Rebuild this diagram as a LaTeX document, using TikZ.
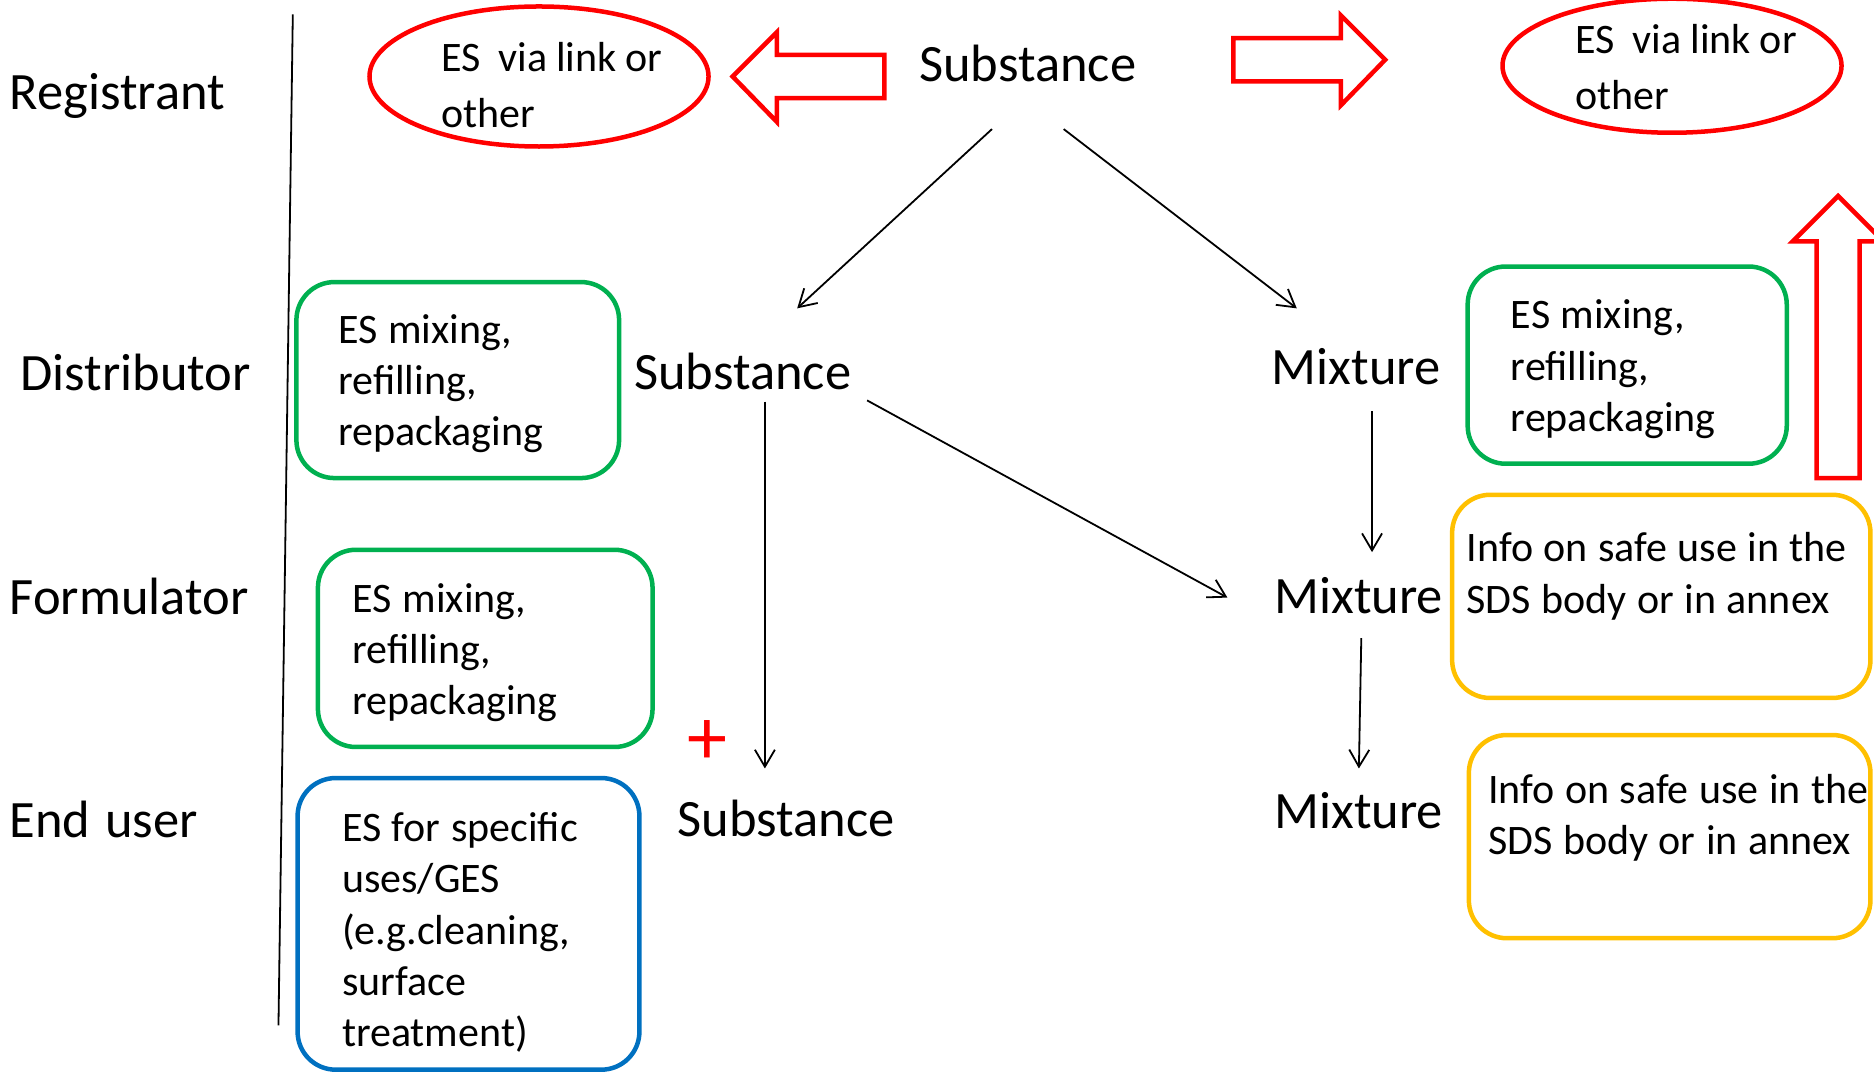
\documentclass[tikz,border=0pt]{standalone}
\usepackage{fontspec}
\setmainfont{Carlito}
\usetikzlibrary{shapes.geometric,arrows.meta,calc,fit}
\definecolor{rd}{RGB}{255,0,0}
\definecolor{gr}{RGB}{0,176,80}
\definecolor{bl}{RGB}{0,112,192}
\definecolor{yl}{RGB}{255,192,0}
\newcommand\myboxsp{\spaceskip 10.5pt\relax\xspaceskip 10.5pt\relax}
\newcommand\myellsp{\spaceskip 9pt\relax\xspaceskip 9pt\relax}
\begin{document}
\begin{tikzpicture}[x=1.195pt,y=-1.195pt,
  lbl/.style={inner sep=0pt, anchor=base west, font=\fontsize{52.5}{63}\selectfont},
  btxt/.style={inner sep=0pt, anchor=north west, text width=430pt, align=left, font=\fontsize{42}{51.2}\selectfont},
  etxt/.style={inner sep=0pt, anchor=north west, text width=320pt, align=left, font=\fontsize{42}{56}\selectfont},
  rbox/.style={draw, line width=4.5pt, rounded corners=38pt, inner sep=0pt},
  gbox/.style={rbox, draw=gr},
  bbox/.style={rbox, draw=bl},
  ybox/.style={rbox, draw=yl},
  redell/.style={ellipse, draw=rd, line width=4.5pt, inner sep=0pt},
  blockarrow/.style={draw=rd, line width=4.5pt, fill=white, line join=miter},
  conn/.style={line width=1.8pt, -{Straight Barb[length=17pt,width=20pt]}},
]
\useasboundingbox (0,0) rectangle (1568,897);

% separator line
\draw[line width=1.8pt] (245,12) -- (233,858);

% row labels
\node[lbl] (lreg) at (8,92) {Registrant};
\node[lbl] (ldis) at (17,327) {Distributor};
\node[lbl] (lfor) at (8,514) {Formulator};
\node[lbl] (lend) at (8,701) {End\hspace{3pt} user};

% substance / mixture labels
\node[lbl] (s1) at (769,68.5) {Substance};
\node[lbl] (s2) at (530.5,326) {Substance};
\node[lbl] (s3) at (567,700) {Substance};
\node[lbl] (m1) at (1064,322) {Mixture};
\node[lbl] (m2) at (1066,513) {Mixture};
\node[lbl] (m3) at (1066,693) {Mixture};

% ellipses
\node[redell, minimum width=339pt, minimum height=140pt] (e1) at (451,64) {};
\node[etxt] (e1t) at (369,27.2) {\myellsp\strut ES~~via link or\\other};
\node[redell, minimum width=339pt, minimum height=134pt] (e2) at (1399,55) {};
\node[etxt] (e2t) at (1318,12.2) {\myellsp\strut ES~~via link or\\other};

% block arrows
\draw[blockarrow] (613,64) -- (650,27) -- (650,46) -- (740,46) -- (740,82) -- (650,82) -- (650,102) -- cycle;
\draw[blockarrow] (1032,32) -- (1122,32) -- (1122,13) -- (1159,50) -- (1122,88) -- (1122,68) -- (1032,68) -- cycle;
\draw[blockarrow] (1520,400) -- (1520,202) -- (1500,202) -- (1538,164) -- (1576,202) -- (1556,202) -- (1556,400) -- cycle;

% boxes
\node[gbox, fit={(248,236)(518,400)}] (g1) {};
\node[btxt] (g1t) at (283,257) {\myboxsp\strut ES mixing,\\refilling,\\repackaging};
\node[gbox, fit={(266,460)(546,625)}] (g2) {};
\node[btxt] (g2t) at (295,482) {\myboxsp\strut ES mixing,\\refilling,\\repackaging};
\node[bbox, fit={(249,651)(535,895)}] (b1) {};
\node[btxt] (b1t) at (286,674) {\myboxsp\strut ES for specific\\uses/GES\\(e.g.cleaning,\\surface\\treatment)};
\node[gbox, fit={(1228,223)(1495,388)}] (g3) {};
\node[btxt] (g3t) at (1264,245) {\myboxsp\strut ES mixing,\\refilling,\\repackaging};
\node[ybox, fit={(1215,414)(1565,584)}] (y1) {};
\node[btxt] (y1t) at (1227,440) {\myboxsp\strut Info on safe use in the\\SDS body or in annex};
\node[ybox, fit={(1229,615)(1565,785)}] (y2) {};
\node[btxt] (y2t) at (1245,642) {\myboxsp\strut Info on safe use in the\\SDS body or in annex};

% red plus
\node[inner sep=0pt, text=rd, font=\fontsize{80}{90}\selectfont] (plus) at (592,621) {+};

% connectors
\draw[conn] ($(s1.base west)+(61,39.5)$) -- ($(s2.base west)+(136.5,-68)$);
\draw[conn] ($(s1.base west)+(121,39.5)$) -- ($(m1.base west)+(21,-64)$);
\draw[conn] ($(s2.base west)+(109.5,10)$) -- ($(s3.base west)+(73,-57)$);
\draw[conn] ($(s2.base west)+(195,9)$) -- ($(m2.base west)+(-39,-13)$);
\draw[conn] ($(m1.base west)+(84,22)$) -- ($(m2.base west)+(82,-51)$);
\draw[conn] ($(m2.base west)+(73,21)$) -- ($(m3.base west)+(71,-50)$);
\end{tikzpicture}
\end{document}
